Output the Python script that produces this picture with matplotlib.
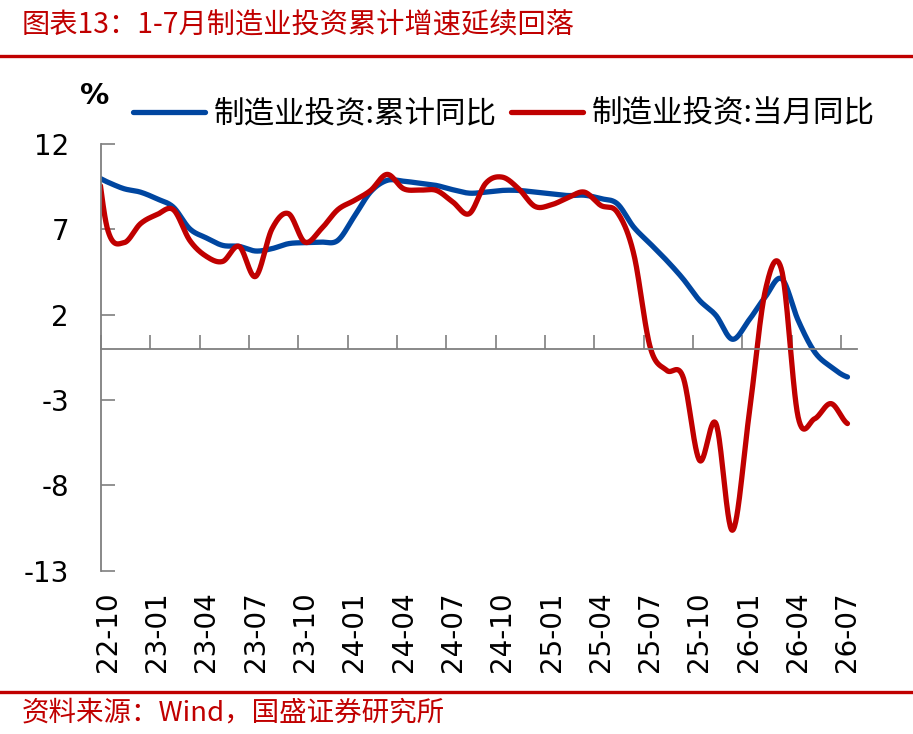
import numpy as np
import matplotlib
matplotlib.use('Agg')
import matplotlib.pyplot as plt
from matplotlib.lines import Line2D

plt.rcParams['font.family'] = ['Noto Sans CJK SC', 'DejaVu Sans']

# monthly data, 22-09 (cut off by the y axis) .. 26-07
cum_yoy = [10.2, 9.77, 9.38, 9.18, 8.79, 8.30, 7.03, 6.5, 6.06, 6.0, 5.73,
           5.87, 6.16, 6.22, 6.25, 6.35, 7.75, 9.2, 9.87, 9.82, 9.7,
           9.57, 9.32, 9.12, 9.18, 9.28, 9.28, 9.18, 9.08, 8.98, 9.0,
           8.8, 8.5, 7.13, 6.16, 5.18, 4.1, 2.84, 1.96, 0.56, 1.67,
           3.04, 4.1, 1.67, -0.18, -1.06, -1.65]
month_yoy = [13.0, 7.0, 6.22, 7.33, 7.86, 8.15, 6.35, 5.42, 5.12, 6.0, 4.24,
             7.03, 7.92, 6.25, 7.03, 8.15, 8.69, 9.28, 10.22, 9.38, 9.3,
             9.28, 8.6, 7.92, 9.7, 10.06, 9.38, 8.34, 8.44, 8.85, 9.18,
             8.4, 8.0, 5.57, 0.1, -1.26, -1.65, -6.53, -4.38, -10.63, -3.99,
             3.4, 4.6, -4.0, -4.1, -3.21, -4.38]
tick_labels = ['22-10', '23-01', '23-04', '23-07', '23-10', '24-01', '24-04',
               '24-07', '24-10', '25-01', '25-04', '25-07', '25-10', '26-01',
               '26-04', '26-07']
y_ticks = [-13, -8, -3, 2, 7, 12]

BLUE = '#0046A0'
RED = '#C00000'
GRAY = '#7F7F7F'


def smooth(xs, ys, n=30):
    # catmull-rom, same look as excel "smoothed line"
    ys = np.asarray(ys, float)
    p = np.concatenate([[ys[0]], ys, [ys[-1]]])
    out_x, out_y = [], []
    t = np.linspace(0, 1, n, endpoint=False)
    for k in range(len(ys) - 1):
        p0, p1, p2, p3 = p[k], p[k + 1], p[k + 2], p[k + 3]
        m1 = (p2 - p0) / 2
        m2 = (p3 - p1) / 2
        h00 = 2 * t**3 - 3 * t**2 + 1
        h10 = t**3 - 2 * t**2 + t
        h01 = -2 * t**3 + 3 * t**2
        h11 = t**3 - t**2
        out_y.append(h00 * p1 + h10 * m1 + h01 * p2 + h11 * m2)
        out_x.append(xs[k] + t * (xs[k + 1] - xs[k]))
    out_x.append([xs[-1]])
    out_y.append([ys[-1]])
    return np.concatenate(out_x), np.concatenate(out_y)


W, H = 913, 734
fig = plt.figure(figsize=(W / 100, H / 100), dpi=100)
ax = fig.add_axes([101 / W, 1 - 570.7 / H, (857 - 101) / W, (570.7 - 144) / H])

x = np.arange(len(cum_yoy)) - 1
bx, by = smooth(x, cum_yoy)
rx, ry = smooth(x, month_yoy)
ax.plot(bx, by, color=BLUE, lw=3.8, solid_capstyle='round', label='制造业投资:累计同比')
ax.plot(rx, ry, color=RED, lw=3.8, solid_capstyle='round', label='制造业投资:当月同比')

ax.set_xlim(-0.4, 45.58)
ax.set_ylim(-13, 12)
ax.set_yticks(y_ticks)
ax.set_yticklabels([str(v) for v in y_ticks], family='DejaVu Sans', fontsize=20)

for s in ['top', 'right']:
    ax.spines[s].set_visible(False)
ax.spines['left'].set_color(GRAY)
ax.spines['left'].set_linewidth(1.3)
ax.spines['bottom'].set_position(('data', 0))
ax.spines['bottom'].set_color(GRAY)
ax.spines['bottom'].set_linewidth(1.3)

ax.set_xticks(np.arange(0, 46, 3) - 0.4)
ax.tick_params(axis='x', direction='in', length=10, width=1.2, color=GRAY,
               labelbottom=False)
ax.tick_params(axis='y', direction='in', length=10, width=1.2, color=GRAY, pad=23)

sec = ax.secondary_xaxis('bottom')
sec.set_xticks(np.arange(0, 46, 3))
sec.set_xticklabels(tick_labels, rotation=90, family='DejaVu Sans', fontsize=20)
sec.tick_params(length=0, pad=15)
sec.spines['bottom'].set_visible(False)

fig.text(95 / W, 1 - 96 / H, '%', family='DejaVu Sans', fontsize=21,
         weight='bold', ha='center', va='center')

ax.legend(loc='center left', bbox_to_anchor=(133 / W, 1 - 114 / H),
          bbox_transform=fig.transFigure, ncol=2, frameon=False,
          fontsize=22, handlelength=2.35, handletextpad=0.3,
          columnspacing=0.45, borderpad=0, borderaxespad=0)

fig.text(22 / W, 1 - 26 / H, '图表13：1-7月制造业投资累计增速延续回落',
         color=RED, fontsize=20.3, style='italic', ha='left', va='center')
fig.text(22 / W, 1 - 713 / H, '资料来源：Wind，国盛证券研究所',
         color=RED, fontsize=19.8, style='italic', ha='left', va='center')

fig.add_artist(Line2D([0, 1], [1 - 56 / H] * 2, transform=fig.transFigure,
                      color=RED, lw=2.4))
fig.add_artist(Line2D([0, 1], [1 - 692 / H] * 2, transform=fig.transFigure,
                      color=RED, lw=2.4))

fig.savefig('out.png', dpi=100)
